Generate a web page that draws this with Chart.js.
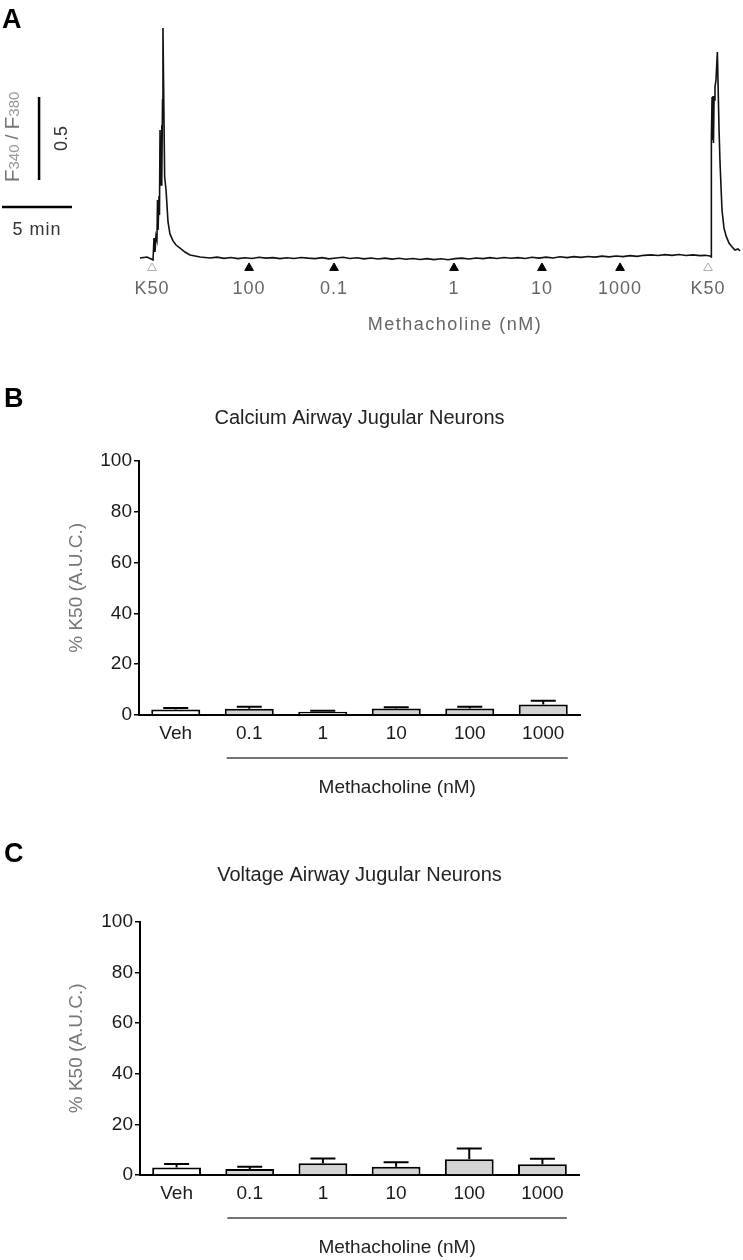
<!DOCTYPE html>
<html>
<head>
<meta charset="utf-8">
<script src="https://cdn.jsdelivr.net/npm/chart.js@4.4.1/dist/chart.umd.min.js"></script>
<style>
  body { margin: 0; background: #fff; width: 743px; height: 1260px; position: relative; overflow: hidden; }
  canvas { position: absolute; left: 0; }
</style>
</head>
<body>
<canvas id="traceChart" width="743" height="340" style="top:0"></canvas>
<canvas id="calciumChart" width="743" height="425" style="top:380px"></canvas>
<canvas id="voltageChart" width="743" height="430" style="top:830px"></canvas>
<script>
// panel A: fura-2 ratio trace (time in min, F340/F380)
var traceTime = [
  0, 0.5, 0.79, 0.93, 1.0, 1.07, 1.14, 1.21, 1.25, 1.29, 1.36, 1.39, 1.43, 1.5, 1.54, 1.57, 1.61, 1.64,
  1.76, 1.86, 2.0, 2.14, 2.36, 2.57, 2.86, 3.21, 3.57, 4.29,
  5.0, 5.5, 6.0, 6.5, 7.0, 7.5, 8.0, 8.5, 9.0, 9.5, 10.0, 10.5, 11.0, 11.5, 12.0, 12.5,
  13.0, 13.5, 14.0, 14.5, 15.0, 15.5, 16.0, 16.5, 17.0, 17.5, 18.0, 18.5, 19.0, 19.5,
  20.0, 20.5, 21.0, 21.5, 22.0, 22.5, 23.0, 23.5, 24.0, 24.5, 25.0, 25.5, 26.0, 26.5,
  27.0, 27.5, 28.0, 28.5, 29.0, 29.5, 30.0, 30.5, 31.0, 31.5, 32.0, 32.5, 33.0, 33.5,
  34.0, 34.5, 35.0, 35.5, 36.0, 36.5, 37.0, 37.5, 38.0, 38.5, 39.0, 39.5, 40.0,
  40.36, 40.71, 40.79, 40.81, 40.86, 40.89, 40.93, 40.96, 41.0, 41.07, 41.14, 41.24, 41.29,
  41.36, 41.43, 41.57, 41.71, 41.86, 42.07, 42.29, 42.5, 42.71, 42.86
];
var traceRatio = [
  0.450, 0.456, 0.444, 0.438, 0.570, 0.486, 0.582, 0.558, 0.799, 0.619, 0.823, 0.709, 1.221, 0.890, 1.250, 0.920, 1.401, 1.836,
  0.938, 0.860, 0.667, 0.595, 0.553, 0.528, 0.510, 0.486, 0.468, 0.456,
  0.450, 0.455, 0.448, 0.453, 0.446, 0.451, 0.447, 0.454, 0.449, 0.452, 0.446, 0.451, 0.447, 0.453, 0.449, 0.446,
  0.452, 0.445, 0.450, 0.454, 0.447, 0.451, 0.445, 0.450, 0.444, 0.449, 0.443, 0.448, 0.442, 0.447,
  0.441, 0.446, 0.440, 0.445, 0.439, 0.446, 0.449, 0.444, 0.450, 0.446, 0.452, 0.447, 0.453, 0.448,
  0.452, 0.447, 0.454, 0.449, 0.455, 0.450, 0.457, 0.452, 0.458, 0.454, 0.459, 0.455, 0.461, 0.457,
  0.462, 0.458, 0.464, 0.460, 0.466, 0.469, 0.465, 0.470, 0.466, 0.471, 0.465, 0.469, 0.464,
  0.466, 0.462, 0.456, 1.161, 1.420, 1.161, 1.426, 1.143, 1.402, 1.480, 1.522, 1.691, 1.492,
  1.221, 1.022, 0.739, 0.631, 0.583, 0.540, 0.516, 0.498, 0.504, 0.492
];
var stimTime = [0.86, 7.79, 13.86, 22.43, 28.71, 34.29, 40.57];
var stimLabel = ['K50', '100', '0.1', '1', '10', '1000', 'K50'];

// panels B and C: % K50 (A.U.C.), mean and SEM
var doseLabels = ['Veh', '0.1', '1', '10', '100', '1000'];
var calciumMean = [2.2, 2.5, 1.3, 2.6, 2.6, 4.1];
var calciumSem = [0.6, 0.7, 0.4, 0.4, 0.6, 1.5];
var voltageMean = [3.0, 2.4, 4.6, 3.3, 6.2, 4.2];
var voltageSem = [1.3, 0.9, 1.9, 1.7, 4.3, 2.2];

var FONT = '"Liberation Sans", Arial, sans-serif';
var markerLevel = 0.39;

function drawRotated(ctx, x, y, parts) {
  ctx.save();
  ctx.translate(x, y);
  ctx.rotate(-Math.PI / 2);
  ctx.textBaseline = 'middle';
  ctx.textAlign = 'left';
  var total = 0;
  parts.forEach(function (p) { ctx.font = p.font; total += ctx.measureText(p.text).width; });
  var pos = -total / 2;
  parts.forEach(function (p) {
    ctx.font = p.font;
    ctx.fillStyle = p.color;
    ctx.fillText(p.text, pos, p.dy || 0);
    pos += ctx.measureText(p.text).width;
  });
  ctx.restore();
}

var traceDecor = {
  id: 'traceDecor',
  afterDraw: function (chart) {
    var ctx = chart.ctx;
    var xs = chart.scales.x, ys = chart.scales.y;
    ctx.save();
    // panel letter
    ctx.font = 'bold 27px ' + FONT;
    ctx.fillStyle = '#000';
    ctx.textBaseline = 'alphabetic';
    ctx.fillText('A', 2, 28);
    // scale bars: 0.5 ratio units, 5 min
    ctx.strokeStyle = '#000';
    ctx.lineWidth = 2.5;
    ctx.beginPath();
    ctx.moveTo(xs.getPixelForValue(-7.21), ys.getPixelForValue(0.92));
    ctx.lineTo(xs.getPixelForValue(-7.21), ys.getPixelForValue(1.42));
    ctx.moveTo(xs.getPixelForValue(-9.86), ys.getPixelForValue(0.757));
    ctx.lineTo(xs.getPixelForValue(-4.86), ys.getPixelForValue(0.757));
    ctx.stroke();
    ctx.font = '18px ' + FONT;
    ctx.fillStyle = '#333';
    ctx.textAlign = 'center';
    ctx.textBaseline = 'middle';
    ctx.letterSpacing = '1px';
    ctx.fillText('5 min', xs.getPixelForValue(-7.36), ys.getPixelForValue(0.757) + 23);
    ctx.letterSpacing = '0px';
    drawRotated(ctx, 62, ys.getPixelForValue(1.17), [{ text: '0.5', font: '18px ' + FONT, color: '#333' }]);
    drawRotated(ctx, 13, 137, [
      { text: 'F', font: '21px ' + FONT, color: '#777' },
      { text: '340', font: '15px ' + FONT, color: '#999', dy: 2 },
      { text: ' / ', font: '18px ' + FONT, color: '#777' },
      { text: 'F', font: '21px ' + FONT, color: '#777' },
      { text: '380', font: '15px ' + FONT, color: '#999', dy: 2 }
    ]);
    // stimulus labels
    var my = ys.getPixelForValue(markerLevel);
    ctx.font = '18px ' + FONT;
    ctx.fillStyle = '#666';
    ctx.textAlign = 'center';
    ctx.letterSpacing = '1px';
    for (var i = 0; i < stimTime.length; i++) {
      ctx.fillText(stimLabel[i], xs.getPixelForValue(stimTime[i]), my + 21);
    }
    ctx.letterSpacing = '1.5px';
    ctx.fillText('Methacholine (nM)', xs.getPixelForValue(22.5), my + 57);
    ctx.restore();
  }
};

new Chart(document.getElementById('traceChart'), {
  type: 'line',
  data: {
    datasets: [{
      data: traceTime.map(function (t, i) { return { x: t, y: traceRatio[i] }; }),
      borderColor: '#111',
      borderWidth: 1.6,
      pointRadius: 0,
      tension: 0
    }, {
      type: 'scatter',
      data: stimTime.map(function (t) { return { x: t, y: markerLevel }; }),
      pointStyle: 'triangle',
      pointRadius: 5,
      borderWidth: 1,
      backgroundColor: stimLabel.map(function (l) { return l === 'K50' ? '#fff' : '#000'; }),
      borderColor: stimLabel.map(function (l) { return l === 'K50' ? '#aaa' : '#000'; })
    }]
  },
  options: {
    responsive: false,
    animation: false,
    layout: { padding: 0, autoPadding: false },
    scales: {
      x: { type: 'linear', min: -10, max: 43.07, display: false },
      y: { min: -0.044, max: 2.004, display: false }
    },
    plugins: { legend: { display: false }, tooltip: { enabled: false } }
  },
  plugins: [traceDecor]
});

function makeBarChart(id, letter, letterY, title, titleY, means, sems, geom) {
  var decor = {
    id: 'barDecor',
    afterDatasetsDraw: function (chart) {
      var ctx = chart.ctx;
      var ys = chart.scales.y;
      var meta = chart.getDatasetMeta(0);
      ctx.save();
      // error bars (upper SEM)
      ctx.strokeStyle = '#000';
      ctx.lineWidth = 2;
      ctx.beginPath();
      for (var i = 0; i < means.length; i++) {
        var bx = meta.data[i].x;
        var y0 = ys.getPixelForValue(means[i]);
        var y1 = ys.getPixelForValue(means[i] + sems[i]);
        ctx.moveTo(bx, y0);
        ctx.lineTo(bx, y1);
        ctx.moveTo(bx - 12.5, y1);
        ctx.lineTo(bx + 12.5, y1);
      }
      ctx.stroke();
      ctx.restore();
    },
    afterDraw: function (chart) {
      var ctx = chart.ctx;
      var area = chart.chartArea;
      var meta = chart.getDatasetMeta(0);
      ctx.save();
      ctx.font = 'bold 27px ' + FONT;
      ctx.fillStyle = '#000';
      ctx.textBaseline = 'alphabetic';
      ctx.fillText(letter, 4, letterY);
      ctx.font = '20px ' + FONT;
      ctx.fillStyle = '#222';
      ctx.textAlign = 'center';
      ctx.textBaseline = 'middle';
      ctx.fillText(title, (area.left + area.right) / 2, titleY);
      drawRotated(ctx, 77, (area.top + area.bottom) / 2, [{ text: '% K50 (A.U.C.)', font: '19px ' + FONT, color: '#777' }]);
      // bracket under the methacholine doses
      var first = meta.data[1], last = meta.data[meta.data.length - 1];
      var lx0 = first.x - first.width / 2 + 2;
      var lx1 = last.x + last.width / 2;
      ctx.strokeStyle = '#444';
      ctx.lineWidth = 1.5;
      ctx.beginPath();
      ctx.moveTo(lx0, area.bottom + 43);
      ctx.lineTo(lx1, area.bottom + 43);
      ctx.stroke();
      ctx.font = '19px ' + FONT;
      ctx.fillStyle = '#222';
      ctx.fillText('Methacholine (nM)', (lx0 + lx1) / 2, area.bottom + 73);
      ctx.restore();
    }
  };
  return new Chart(document.getElementById(id), {
    type: 'bar',
    data: {
      labels: doseLabels,
      datasets: [{
        data: means,
        backgroundColor: doseLabels.map(function (l) { return l === 'Veh' ? '#fff' : '#d3d3d3'; }),
        borderColor: '#000',
        borderWidth: 2,
        barPercentage: 0.667,
        categoryPercentage: 1.0
      }]
    },
    options: {
      responsive: false,
      animation: false,
      layout: { padding: { top: geom.top, right: geom.right, left: 0, bottom: 0 } },
      scales: {
        x: {
          grid: { display: false, drawTicks: false },
          border: { display: true, color: '#000', width: 2 },
          ticks: { font: { family: FONT, size: 19 }, color: '#1a1a1a', padding: 7 },
          afterFit: function (s) { s.height = geom.bottom; }
        },
        y: {
          min: 0, max: 100,
          grid: { display: true, drawOnChartArea: false, drawTicks: true, tickLength: 5, color: '#000', lineWidth: 1.5 },
          border: { display: true, color: '#000', width: 2 },
          ticks: { stepSize: 20, font: { family: FONT, size: 19 }, color: '#1a1a1a', padding: 2 },
          afterFit: function (s) { s.width = geom.left; }
        }
      },
      plugins: { legend: { display: false }, tooltip: { enabled: false } }
    },
    plugins: [decor]
  });
}

makeBarChart('calciumChart', 'B', 27, 'Calcium Airway Jugular Neurons', 38,
  calciumMean, calciumSem, { top: 80.7, right: 163, bottom: 90, left: 139 });
makeBarChart('voltageChart', 'C', 32, 'Voltage Airway Jugular Neurons', 45,
  voltageMean, voltageSem, { top: 91.7, right: 164, bottom: 85, left: 140 });
</script>
</body>
</html>
